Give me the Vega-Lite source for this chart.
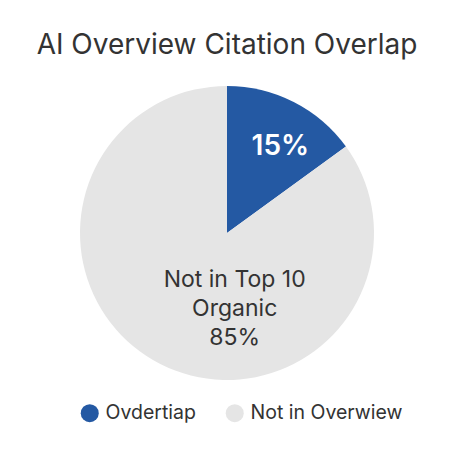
{
  "$schema": "https://vega.github.io/schema/vega-lite/v6.json",
  "autosize": "none",
  "width": 454,
  "height": 306,
  "padding": {"top": 80, "left": 0, "right": 0, "bottom": 68},
  "background": "white",
  "title": {
    "text": "AI Overview Citation Overlap",
    "fontSize": 28,
    "fontWeight": "normal",
    "font": "Inter",
    "color": "#333333",
    "anchor": "middle",
    "offset": 20
  },
  "config": {"view": {"stroke": null}},
  "data": {
    "values": [
      {"group": "Ovdertiap", "value": 15, "label": "15%"},
      {"group": "Not in Overwiew", "value": 85, "label": "Not in Top 10\nOrganic\n85%"}
    ]
  },
  "encoding": {
    "theta": {"field": "value", "type": "quantitative", "stack": true},
    "order": {"field": "value", "sort": "ascending"}
  },
  "layer": [
    {
      "mark": {"type": "arc", "outerRadius": 147},
      "encoding": {
        "color": {
          "field": "group",
          "type": "nominal",
          "scale": {"domain": ["Ovdertiap", "Not in Overwiew"], "range": ["#2459a3", "#e5e5e5"]},
          "legend": {
            "title": null,
            "orient": "none",
            "direction": "horizontal",
            "legendX": 80,
            "legendY": 323,
            "symbolType": "circle",
            "symbolSize": 324,
            "symbolStrokeWidth": 0,
            "labelFont": "Inter",
            "labelFontSize": 19.5,
            "labelColor": "#333333",
            "labelOffset": 6,
            "columnPadding": 29,
            "labelLimit": 300
          }
        }
      }
    },
    {
      "mark": {"type": "text", "radius": 100, "dx": 8, "dy": 3, "font": "Inter", "fontSize": 28, "fontWeight": 600, "color": "white", "baseline": "middle", "align": "center"},
      "encoding": {
        "text": {"condition": {"test": "datum.group === 'Ovdertiap'", "field": "label"}, "value": ""}
      }
    },
    {
      "mark": {"type": "text", "radius": 80, "dx": 44, "dy": -24, "font": "Inter", "fontSize": 23, "fontWeight": "normal", "color": "#333333", "baseline": "middle", "align": "center", "lineBreak": "\n", "lineHeight": 29},
      "encoding": {
        "text": {"condition": {"test": "datum.group === 'Not in Overwiew'", "field": "label"}, "value": ""}
      }
    }
  ]
}
